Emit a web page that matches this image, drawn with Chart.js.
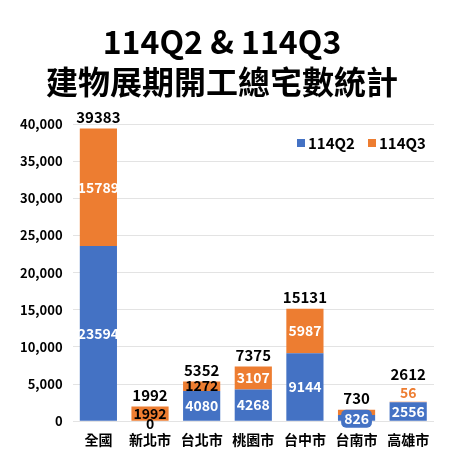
<!DOCTYPE html>
<html>
<head>
<meta charset="utf-8">
<script src="https://cdn.jsdelivr.net/npm/chart.js@4.4.1/dist/chart.umd.min.js"></script>
<style>
  html, body { margin: 0; padding: 0; background: #fff; }
  #wrap { width: 454px; height: 450px; }
</style>
</head>
<body>
<div id="wrap"><canvas id="myChart"></canvas></div>
<script>
const FONT = '"Noto Sans CJK TC", "Noto Sans", sans-serif';

const categories = ['全國', '新北市', '台北市', '桃園市', '台中市', '台南市', '高雄市'];
const q2Values = [23594, 0, 4080, 4268, 9144, 826, 2556];
const q3Values = [15789, 1992, 1272, 3107, 5987, 730, 56];
// 그림에 적힌 그대로의 라벨 (台南은 730으로 표기됨)
const totalLabels = ['39383', '1992', '5352', '7375', '15131', '730', '2612'];
const q3Labels = ['15789', '1992', '1272', '3107', '5987', null, '56'];
const yTicks = [0, 5000, 10000, 15000, 20000, 25000, 30000, 35000, 40000];

const BLUE = '#4472C4';
const ORANGE = '#ED7D31';

// 막대 안/위 숫자 + 범례
const labelPlugin = {
    id: 'barLabels',
    afterDatasetsDraw(chart) {
        const c = chart.ctx;
        const m2 = chart.getDatasetMeta(0);
        const m3 = chart.getDatasetMeta(1);
        c.save();
        c.textAlign = 'center';
        c.textBaseline = 'middle';

        categories.forEach((cat, i) => {
            const b2 = m2.data[i];
            const b3 = m3.data[i];
            const x = b2.x;
            c.font = 'bold 14px ' + FONT;

            // 114Q3
            const h3 = b3.base - b3.y;
            let topY = b3.y;
            if (q3Labels[i] !== null) {
                if (h3 >= 20) {
                    c.fillStyle = '#fff';
                    c.fillText(q3Labels[i], x, (b3.y + b3.base) / 2);
                } else if (h3 >= 5) {
                    c.fillStyle = '#000';
                    c.fillText(q3Labels[i], x, (b3.y + b3.base) / 2);
                } else {
                    c.fillStyle = ORANGE;
                    c.fillText(q3Labels[i], x, b3.y - 9);
                    topY = b3.y - 16;
                }
            }

            // 114Q2
            const h2 = b2.base - b2.y;
            if (q2Values[i] === 0) {
                c.fillStyle = '#000';
                c.fillText('0', x, b2.base + 2);
            } else if (h2 < 16) {
                const w = c.measureText(String(q2Values[i])).width + 6;
                const cy = b2.base - 2;
                c.fillStyle = BLUE;
                c.beginPath();
                c.roundRect(x - w / 2, cy - 9, w, 18, 5);
                c.fill();
                c.fillStyle = '#fff';
                c.fillText(String(q2Values[i]), x, cy);
            } else {
                c.fillStyle = '#fff';
                c.fillText(String(q2Values[i]), x, (b2.y + b2.base) / 2);
            }

            // 합계
            c.fillStyle = '#000';
            c.font = 'bold 15px ' + FONT;
            c.fillText(totalLabels[i], x, topY - 11);
        });

        // 범례 (차트 영역 오른쪽 위)
        c.textAlign = 'left';
        c.font = 'bold 15px ' + FONT;
        let lx = 298;
        const ly = 143;
        chart.data.datasets.forEach(ds => {
            c.fillStyle = ds.backgroundColor;
            c.fillRect(lx - 1, ly - 4, 8, 8);
            c.fillStyle = '#000';
            c.fillText(ds.label, lx + 10, ly);
            lx += 71;
        });
        c.restore();
    }
};

new Chart(document.getElementById('myChart'), {
    type: 'bar',
    data: {
        labels: categories,
        datasets: [
            { label: '114Q2', data: q2Values, backgroundColor: BLUE, borderWidth: 0 },
            { label: '114Q3', data: q3Values, backgroundColor: ORANGE, borderWidth: 0 }
        ]
    },
    options: {
        responsive: true,
        maintainAspectRatio: false,
        animation: false,
        layout: { padding: { left: 10, right: 20, top: 0, bottom: 0 } },
        datasets: { bar: { categoryPercentage: 0.72, barPercentage: 1 } },
        plugins: {
            legend: { display: false },
            tooltip: { enabled: false },
            title: {
                display: true,
                text: ['114Q2 & 114Q3', '建物展期開工總宅數統計'],
                color: '#000',
                font: { family: FONT, size: 32, weight: 'bold', lineHeight: 1.25 },
                padding: { top: 22, bottom: 22 }
            }
        },
        scales: {
            x: {
                stacked: true,
                grid: { display: false },
                border: { display: false },
                ticks: { color: '#000', font: { family: FONT, size: 14, weight: 'bold' }, padding: 2 }
            },
            y: {
                stacked: true,
                min: 0,
                max: 40000,
                afterBuildTicks: axis => { axis.ticks = yTicks.map(v => ({ value: v })); },
                grid: { color: '#e3e3e3', drawTicks: false },
                border: { display: false },
                ticks: {
                    color: '#000',
                    padding: 10,
                    font: { family: FONT, size: 13, weight: 'bold' },
                    callback: v => v.toLocaleString('en-US')
                }
            }
        }
    },
    plugins: [labelPlugin]
});
</script>
</body>
</html>
